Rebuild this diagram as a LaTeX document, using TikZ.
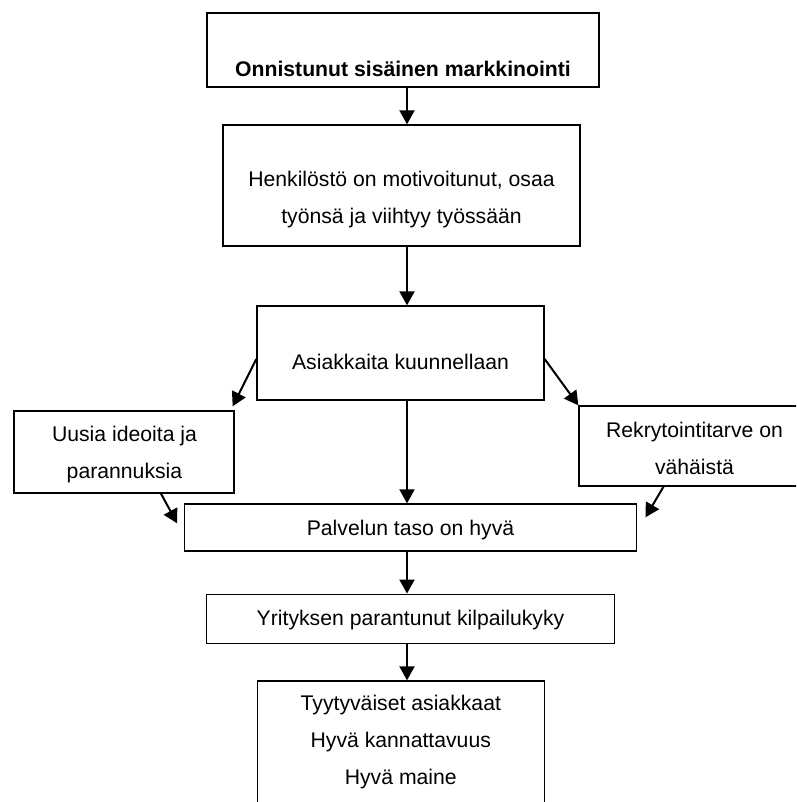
\documentclass[tikz,border=0pt]{standalone}
\usepackage{fontspec}
\setmainfont{Liberation Sans}
\usetikzlibrary{arrows.meta}

\begin{document}
\begin{tikzpicture}[x=1pt, y=-1pt,
        box/.style = {draw, rectangle, line width=1.3pt, inner sep=0pt},
        txt/.style = {anchor=base, align=center, inner sep=0pt, font=\fontsize{21.2}{37}\selectfont},
        arr/.style = {line width=2pt, -{Triangle[length=14pt,width=15pt]}}]
        \clip (0,0) rectangle (796,802);
        \coordinate (axis) at (407,0);

        % Boxes
        \node[box, minimum width=392, minimum height=74] (sisainen) at (403,50) {};
        \node[box, minimum width=357, minimum height=121] (henkilosto) at (401.5,185.5) {};
        \node[box, minimum width=287, minimum height=94] (kuunnellaan) at (400.5,353) {};
        \node[box, minimum width=220, minimum height=82] (ideat) at (124,452) {};
        \node[box, minimum width=231, minimum height=80] (rekry) at (694.5,446) {};
        \node[box, minimum width=452, minimum height=47] (palvelu) at (410.8,527.5) {};
        \node[box, minimum width=408, minimum height=49] (kilpailu) at (410.8,618.7) {};
        \node[box, minimum width=287, minimum height=149] (tulos) at (400.8,755.5) {};

        % Texts (base = last line)
        \node[txt, font=\fontsize{21.2}{37}\selectfont\bfseries] (sisainenT) at (403,77) {Onnistunut sisäinen markkinointi};
        \node[txt] (henkilostoT) at (401.5,224) {Henkilöstö on motivoitunut, osaa\\työnsä ja viihtyy työssään};
        \node[txt] (kuunnellaanT) at (400.5,369) {Asiakkaita kuunnellaan};
        \node[txt] (ideatT) at (124.5,478) {Uusia ideoita ja\\parannuksia};
        \node[txt] (rekryT) at (694.5,474) {Rekrytointitarve on\\vähäistä};
        \node[txt] (palveluT) at (410.5,535.5) {Palvelun taso on hyvä};
        \node[txt] (kilpailuT) at (410.5,625) {Yrityksen parantunut kilpailukyky};
        \node[txt] (tulosT) at (400.8,784) {Tyytyväiset asiakkaat\\Hyvä kannattavuus\\Hyvä maine};

        % Main chain
        \draw[arr] (sisainen.south -| axis) -- (henkilosto.north -| axis);
        \draw[arr] (henkilosto.south -| axis) -- (kuunnellaan.north -| axis);
        \draw[arr] (kuunnellaan.south -| axis) -- (palvelu.north -| axis);
        \draw[arr] (palvelu.south -| axis) -- (kilpailu.north -| axis);
        \draw[arr] (kilpailu.south -| axis) -- (tulos.north -| axis);

        % Side branches
        \draw[arr] ([yshift=-6pt]kuunnellaan.west) -- ([xshift=-2pt,yshift=4pt]ideat.north east);
        \draw[arr] ([yshift=-6pt]kuunnellaan.east) -- (rekry.north west);
        \draw[arr] ([xshift=37pt]ideat.south) -- ([xshift=-7pt,yshift=-20pt]palvelu.north west);
        \draw[arr] ([xshift=-31pt]rekry.south) -- ([xshift=8pt,yshift=-14pt]palvelu.north east);
    \end{tikzpicture}
\end{document}
